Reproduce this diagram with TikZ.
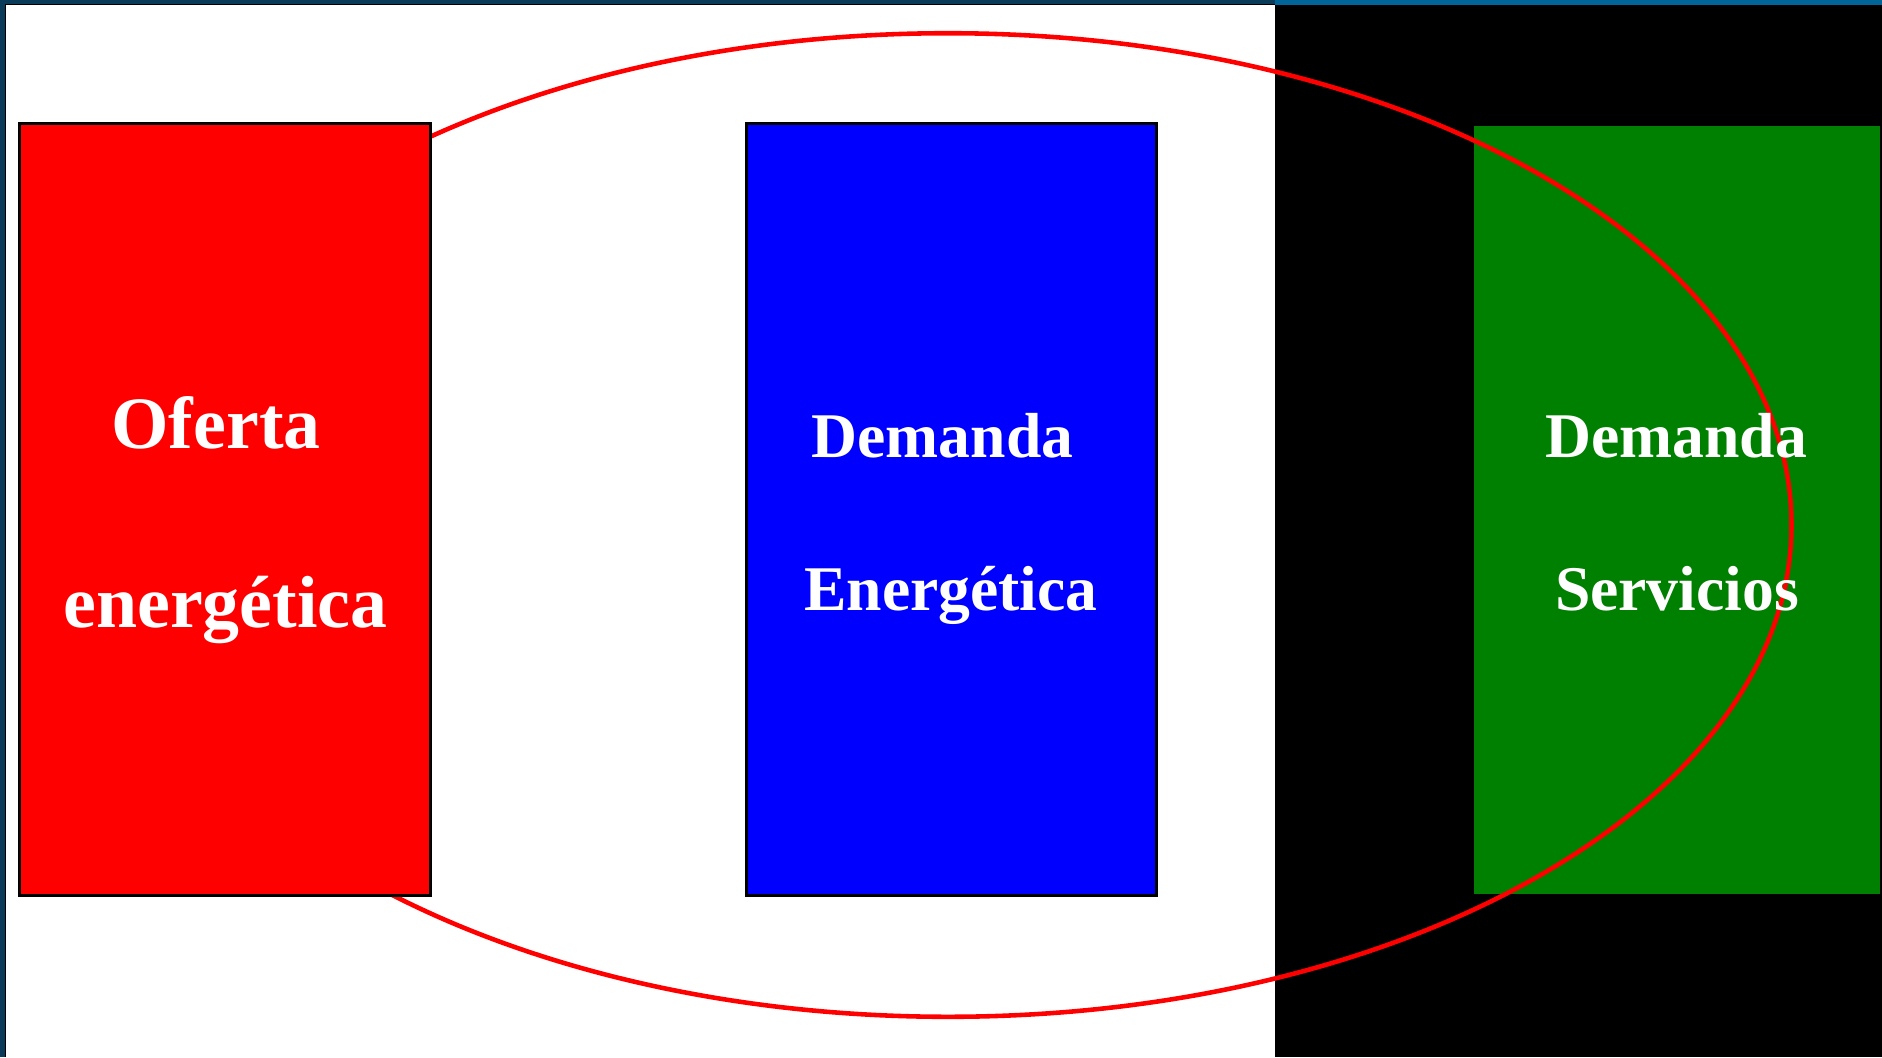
\documentclass[tikz,border=0pt]{standalone}
\usepackage{fontspec}
\setmainfont{Liberation Serif}
\usepackage{xcolor}
\usepackage{tikz}
\usetikzlibrary{positioning}
\definecolor{supred}{RGB}{255,0,0}
\definecolor{demblue}{RGB}{0,0,255}
\definecolor{srvgreen}{RGB}{0,128,0}
\definecolor{frameblue}{RGB}{10,60,90}
\definecolor{stripblue}{RGB}{0,102,154}
\tikzset{
  panel/.style={rectangle, draw=black, line width=0.8pt, inner sep=0pt,
    minimum width=4.10cm, minimum height=7.71cm},
  bigtext/.style={text=white, anchor=base, inner sep=0pt,
    font=\bfseries\fontsize{21}{21}\selectfont},
  midtext/.style={text=white, anchor=base, inner sep=0pt,
    font=\bfseries\fontsize{18.1}{18.1}\selectfont},
  ring/.style={draw=supred, line width=1.3pt}
}

\begin{document}
\begin{tikzpicture}[x=0.01cm, y=-0.01cm]
  \useasboundingbox (0,0) rectangle (1882,1057);

  % Backdrop
  \fill[black] (0,0) rectangle (1882,1057);
  \fill[white] (6,5) rectangle (1275,1057);
  \fill[frameblue] (0,0) rectangle (5,1057);
  \fill[frameblue] (0,0) rectangle (1275,4);
  \fill[stripblue] (1275,0) rectangle (1882,5);

  % Services demand (Right)
  \node[panel, draw=none, fill=srvgreen, minimum width=4.06cm, minimum height=7.68cm] (servicios) at (1677,510) {};

  % Enclosing loop
  \draw[ring] (948,525) ellipse [x radius=8.43cm, y radius=4.915cm];

  % Supply (Left)
  \node[panel, fill=supred] (oferta) at (225,509.5) {};

  % Energy demand (Center)
  \node[panel, fill=demblue] (demanda) at (951.5,509.5) {};

  % Texts
  \node[bigtext] (of1) at (216,448) {Oferta};
  \node[bigtext] (of2) at (225.5,627) {energética};
  \node[midtext] (de1) at (942.5,457) {Demanda};
  \node[midtext] (de2) at (951,610) {Energética};
  \node[midtext] (sv1) at (1676,457) {Demanda};
  \node[midtext] (sv2) at (1677,610) {Servicios};
\end{tikzpicture}
\end{document}
